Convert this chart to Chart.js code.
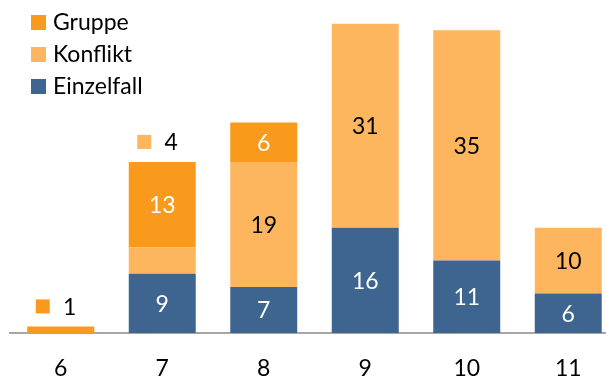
<!DOCTYPE html>
<html>
<head>
<meta charset="utf-8">
<script src="https://cdn.jsdelivr.net/npm/chart.js@4/dist/chart.umd.min.js"></script>
<style>
html,body{margin:0;padding:0;background:#fff;overflow:hidden;}
#wrap{width:606px;height:378px;overflow:hidden;position:relative;}
canvas{display:block;}
</style>
</head>
<body>
<div id="wrap"><canvas id="c" width="620" height="378" style="width:620px;height:378px"></canvas></div>
<script>
const categories = ['6', '7', '8', '9', '10', '11'];
const einzelfall = [0, 9, 7, 16, 11, 6];
const konflikt = [0, 4, 19, 31, 35, 10];
const gruppe = [1, 13, 6, 0, 0, 0];
const seriesNames = ['Einzelfall', 'Konflikt', 'Gruppe'];

const colors = ['#3d6590', '#fdb55e', '#f99a1c'];
const labelColors = ['#ffffff', '#000000', '#ffffff'];
const FONT = 'Lato, "Open Sans", sans-serif';
const FS = 23;

const labelPlugin = {
  id: 'valueLabels',
  afterDatasetsDraw(chart) {
    const ctx = chart.ctx;
    ctx.save();
    ctx.font = FS + 'px ' + FONT;
    ctx.textAlign = 'center';
    ctx.textBaseline = 'middle';
    chart.data.datasets.forEach((ds, i) => {
      const meta = chart.getDatasetMeta(i);
      meta.data.forEach((bar, j) => {
        const v = ds.data[j];
        if (!v) return;
        const p = bar.getProps(['x', 'y', 'base'], true);
        const h = p.base - p.y;
        if (h >= 30) {
          ctx.fillStyle = labelColors[i];
          ctx.fillText(String(v), p.x, (p.y + p.base) / 2 + 1);
        } else {
          let top = p.y;
          chart.data.datasets.forEach((d2, k) => {
            const b2 = chart.getDatasetMeta(k).data[j];
            if (d2.data[j]) top = Math.min(top, b2.y);
          });
          const cy = top - 20;
          ctx.fillStyle = colors[i];
          ctx.fillRect(p.x - 25, cy - 7, 14, 14);
          ctx.fillStyle = '#000';
          ctx.fillText(String(v), p.x + 9, cy + 1);
        }
      });
    });
    ctx.restore();
  }
};

const legendPlugin = {
  id: 'customLegend',
  afterDraw(chart) {
    const ctx = chart.ctx;
    ctx.save();
    ctx.font = FS + 'px ' + FONT;
    ctx.textAlign = 'left';
    ctx.textBaseline = 'middle';
    const order = [2, 1, 0];
    order.forEach((idx, r) => {
      const cy = 22 + r * 32;
      ctx.fillStyle = colors[idx];
      ctx.fillRect(31, cy - 7, 15, 15);
      ctx.fillStyle = '#000';
      ctx.fillText(chart.data.datasets[idx].label, 53, cy + 1);
    });
    ctx.restore();
  }
};

new Chart(document.getElementById('c'), {
  type: 'bar',
  data: {
    labels: categories,
    datasets: [
      { label: seriesNames[0], data: einzelfall, backgroundColor: colors[0] },
      { label: seriesNames[1], data: konflikt, backgroundColor: colors[1] },
      { label: seriesNames[2], data: gruppe, backgroundColor: colors[2] }
    ]
  },
  options: {
    responsive: false,
    animation: false,
    devicePixelRatio: 1,
    layout: { padding: { left: 10, right: 1, top: 4, bottom: 0 } },
    datasets: { bar: { categoryPercentage: 1, barPercentage: 0.66, borderWidth: 0 } },
    plugins: { legend: { display: false }, tooltip: { enabled: false } },
    scales: {
      x: {
        stacked: true,
        grid: { display: false, drawTicks: false },
        border: { display: true, color: '#a6a6a6', width: 2 },
        ticks: { color: '#000', font: { family: FONT, size: FS }, padding: 22 },
        afterFit(scale) { scale.height = 45; }
      },
      y: {
        stacked: true,
        display: false,
        min: 0,
        max: 50
      }
    }
  },
  plugins: [labelPlugin, legendPlugin]
});
</script>
</body>
</html>
